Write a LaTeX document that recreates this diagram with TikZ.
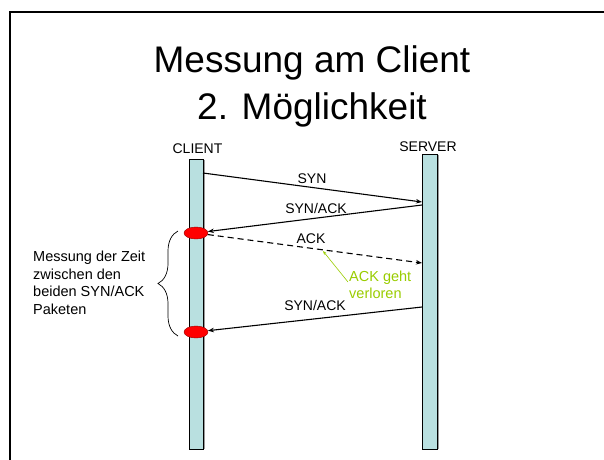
\documentclass[tikz,border=0pt]{standalone}
\usepackage{fontspec}
\setmainfont{Liberation Sans}
\usetikzlibrary{arrows.meta,decorations.pathreplacing,shapes.geometric}
\definecolor{lifeline}{RGB}{185,224,224}
\definecolor{notegreen}{RGB}{153,204,0}
\begin{document}
\begin{tikzpicture}[x=1pt,y=-1pt,
  lbl/.style={font=\fontsize{14}{17}\selectfont, anchor=base, inner sep=0pt},
  msg/.style={line width=1.1pt, -{Stealth[length=6pt,width=4.5pt]}},
  lifebar/.style={draw=black, line width=0.9pt, fill=lifeline, inner sep=0pt, minimum width=14pt},
  marker/.style={ellipse, fill=red, draw=red!60!black, line width=0.4pt,
                 minimum width=24pt, minimum height=12pt, inner sep=0pt},
  titletext/.style={font=\fontsize{37}{44}\selectfont, anchor=base, inner sep=0pt}
]
\useasboundingbox (0,0) rectangle (604,459);

% slide frame
\draw[line width=2pt] (10.3,460) -- (10.3,12.2) -- (605,12.2);

% title
\node[titletext] (title1) at (312,72) {Messung am Client};
\node[titletext] (title2) at (312,119) {2. Möglichkeit};

% lifelines
\node[lifebar, minimum height=290pt] (client) at (196,304) {};
\node[lifebar, minimum width=15pt, minimum height=295pt] (server) at (429.5,301.5) {};
\draw[gray!80, line width=1pt] ([xshift=1pt,yshift=-1pt]client.north east) -- ([xshift=1pt]client.south east);
\draw[gray!80, line width=1pt] ([xshift=1pt,yshift=-1pt]server.north east) -- ([xshift=1pt]server.south east);
\node[lbl] (clientlbl) at (197.5,153) {CLIENT};
\node[lbl] (serverlbl) at (428,151) {SERVER};

% measurement points on the client
\node[marker] (m1) at (196,233) {};
\node[marker] (m2) at (196,332) {};

% message end points
\coordinate (c1) at (203,173);
\coordinate (s1) at (422,202);
\coordinate (s2) at (422,205);
\coordinate (s3) at (422,263);
\coordinate (s4) at (422,307);

% messages
\draw[msg] (c1) -- (s1);
\draw[msg] (s2) -- (m1);
\draw[msg, dash pattern=on 6pt off 4pt] (m1) -- (s3);
\draw[msg] (s4) -- (m2);

\node[lbl] (synlbl) at (312,183) {SYN};
\node[lbl] (synack1lbl) at (316,213) {SYN/ACK};
\node[lbl] (acklbl) at (311,243) {ACK};
\node[lbl] (synack2lbl) at (315,310) {SYN/ACK};

% lost packet annotation (base anchor sits on the last line)
\node[font=\fontsize{14.5}{16.5}\selectfont, text=notegreen, align=left,
      anchor=base west, inner sep=0pt] (lost) at (349,298) {ACK geht\\verloren};
\coordinate (hit) at (323,251);
\coordinate (lostfoot) at (348,282);
\draw[notegreen, line width=0.6pt, -{Stealth[length=4pt,width=3pt]}] (lostfoot) -- (hit);

% measured interval
\coordinate (bracelow) at (178,336);
\coordinate (bracehigh) at (178,231);
\draw[line width=0.7pt, decorate, decoration={brace, amplitude=20pt}] (bracelow) -- (bracehigh);
\node[font=\fontsize{14.5}{17.4}\selectfont, align=left, anchor=base west, inner sep=0pt]
  (interval) at (33,314) {Messung der Zeit\\zwischen den\\beiden SYN/ACK\\Paketen};
\end{tikzpicture}
\end{document}
